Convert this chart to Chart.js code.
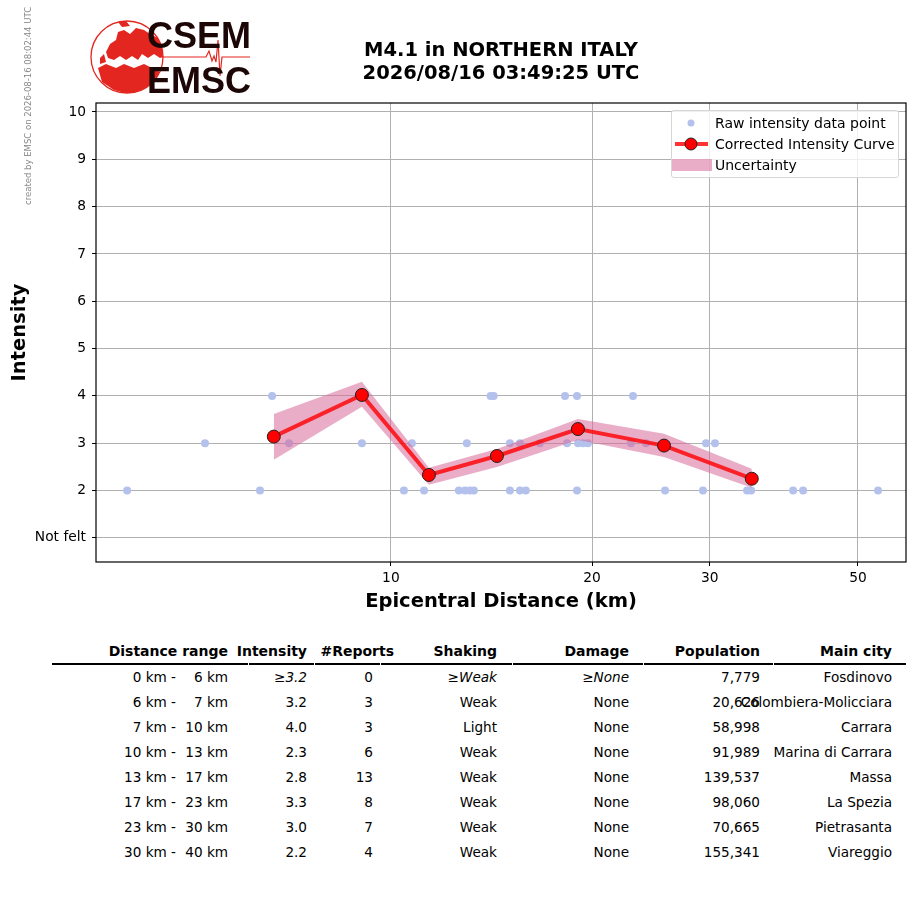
<!DOCTYPE html>
<html lang="en">
<head>
<meta charset="UTF-8">
<title>M4.1 in NORTHERN ITALY - intensity</title>
<script src="https://cdn.jsdelivr.net/npm/chart.js"></script>
<style>
    body {
        margin: 0;
        width: 915px;
        height: 905px;
        position: relative;
        background: #fff;
        font-family: "DejaVu Sans", sans-serif;
        color: #000;
        overflow: hidden;
    }
    #chart {
        position: absolute;
        left: 0;
        top: 0;
    }
    .abs {
        position: absolute;
        white-space: nowrap;
    }
    #title {
        left: 251px;
        top: 38px;
        width: 500px;
        text-align: center;
        font-weight: bold;
        font-size: 19.5px;
        line-height: 23px;
    }
    #stamp {
        left: 23px;
        top: 10px;
        font-size: 8.5px;
        color: #888;
        transform-origin: left top;
        transform: translate(0, 195px) rotate(-90deg);
    }
    .logo-txt {
        font-family: "Liberation Sans", Arial, sans-serif;
        font-weight: bold;
        font-size: 36px;
        color: #1c0606;
        line-height: 36px;
    }
    #legend {
        left: 671px;
        top: 110px;
        width: 226px;
        height: 66px;
        border: 1px solid #d6d6d6;
        border-radius: 3px;
        background: rgba(255, 255, 255, 0.8);
        font-size: 14px;
    }
    .leg-row {
        position: absolute;
        left: 43px;
        line-height: 16px;
    }
    .cell {
        position: absolute;
        white-space: nowrap;
        font-size: 13.6px;
        line-height: 16px;
    }
    .hdr {
        font-weight: bold;
        font-size: 14px;
    }
    .rule {
        position: absolute;
        top: 663px;
        height: 1.5px;
        background: #000;
    }
</style>
</head>
<body>
<canvas id="chart" width="915" height="620"></canvas>

<div id="stamp" class="abs">created by EMSC on 2026-08-16 08:02:44 UTC</div>

<svg class="abs" style="left:88px;top:18px" width="170" height="82" viewBox="0 0 170 82">
    <defs>
        <clipPath id="globe"><circle cx="39" cy="39" r="36"/></clipPath>
    </defs>
    <circle cx="39" cy="39" r="36" fill="none" stroke="#e3261f" stroke-width="1.3"/>
    <g clip-path="url(#globe)" fill="#e3261f">
        <path d="M18 34 L22 26 L28 22 L30 14 L36 12 L42 16 L48 10 L56 12 L62 16 L70 20 L76 28 L78 38 L72 40 L66 36 L60 40 L54 36 L50 42 L44 38 L38 42 L32 38 L26 42 L20 40 Z"/>
        <path d="M10 50 L18 46 L28 50 L36 46 L46 50 L56 46 L64 50 L72 54 L74 62 L66 70 L54 74 L40 76 L26 72 L14 64 Z"/>
        <path d="M12 40 L16 36 L18 44 L12 46 Z"/>
        <path d="M30 4 L38 3 L42 8 L34 9 Z"/>
    </g>
    <polyline points="74,39 118,39 121,33 124,43 126,38 128,44 130,22 132,58 134,39 162,39"
              fill="none" stroke="#e3261f" stroke-width="1.2"/>
</svg>
<div class="abs logo-txt" style="left:147px;top:18px">CSEM</div>
<div class="abs logo-txt" style="left:147px;top:63px">EMSC</div>

<div id="title" class="abs">M4.1 in NORTHERN ITALY<br>2026/08/16 03:49:25 UTC</div>

<div id="legend" class="abs">
    <svg style="position:absolute;left:0;top:0" width="44" height="66">
        <circle cx="19" cy="12" r="3.5" fill="#b3c1ec"/>
        <line x1="3" y1="33" x2="36" y2="33" stroke="rgba(255,0,0,0.8)" stroke-width="4"/>
        <circle cx="19" cy="33" r="6" fill="#ff0000" stroke="#222" stroke-width="1"/>
        <rect x="0" y="48" width="40" height="12" fill="rgba(215,105,155,0.55)"/>
    </svg>
    <div class="leg-row" style="top:4px">Raw intensity data point</div>
    <div class="leg-row" style="top:25px">Corrected Intensity Curve</div>
    <div class="leg-row" style="top:46px">Uncertainty</div>
</div>

<div id="table"></div>

<script>
    // ---- data ----
    const rawDist = [6.64, 14.1, 14.25, 18.22, 18.99, 23.03,
        5.27, 7.04, 9.05, 10.75, 12.99, 15.07, 15.60, 16.71, 18.35, 19.06, 19.39, 19.72, 22.87, 24.08, 29.62, 30.55,
        4.03, 6.37, 10.46, 11.21, 12.64, 12.91, 13.13, 13.31, 15.07, 15.60, 15.92, 18.99, 25.72, 29.31, 34.12, 34.60, 39.99, 41.39, 53.58];
    const rawInt = [4, 4, 4, 4, 4, 4,
        3, 3, 3, 3, 3, 3, 3, 3, 3, 3, 3, 3, 3, 3, 3, 3,
        2, 2, 2, 2, 2, 2, 2, 2, 2, 2, 2, 2, 2, 2, 2, 2, 2, 2, 2];

    const curveDist = [6.68, 9.05, 11.40, 14.41, 19.05, 25.63, 34.68];
    const curveInt = [3.14, 4.02, 2.33, 2.73, 3.30, 2.95, 2.25];
    const upperInt = [3.62, 4.30, 2.48, 2.88, 3.51, 3.20, 2.46];
    const lowerInt = [2.65, 3.77, 2.12, 2.50, 3.07, 2.71, 2.06];

    const xTicks = [10, 20, 30, 50];
    const yTicks = [1, 2, 3, 4, 5, 6, 7, 8, 9, 10];
    const yTickLabels = ['Not felt', '2', '3', '4', '5', '6', '7', '8', '9', '10'];

    const tableHeader = ['Distance range', 'Intensity', '#Reports', 'Shaking', 'Damage', 'Population', 'Main city'];
    const rangeFrom = ['0 km -', '6 km -', '7 km -', '10 km -', '13 km -', '17 km -', '23 km -', '30 km -'];
    const rangeTo = ['6 km', '7 km', '10 km', '13 km', '17 km', '23 km', '30 km', '40 km'];
    const intensities = ['≥3.2', '3.2', '4.0', '2.3', '2.8', '3.3', '3.0', '2.2'];
    const reports = ['0', '3', '3', '6', '13', '8', '7', '4'];
    const shaking = ['≥Weak', 'Weak', 'Light', 'Weak', 'Weak', 'Weak', 'Weak', 'Weak'];
    const damage = ['≥None', 'None', 'None', 'None', 'None', 'None', 'None', 'None'];
    const population = ['7,779', '20,626', '58,998', '91,989', '139,537', '98,060', '70,665', '155,341'];
    const mainCity = ['Fosdinovo', 'Colombiera-Molicciara', 'Carrara', 'Marina di Carrara', 'Massa', 'La Spezia', 'Pietrasanta', 'Viareggio'];

    const toXY = (xs, ys) => xs.map((x, i) => ({ x: x, y: ys[i] }));

    // black frame around the plot area, like matplotlib axes
    const framePlugin = {
        id: 'frame',
        afterDraw(chart) {
            const a = chart.chartArea;
            const ctx = chart.ctx;
            ctx.save();
            ctx.strokeStyle = '#000';
            ctx.lineWidth = 1.2;
            ctx.strokeRect(a.left, a.top, a.right - a.left, a.bottom - a.top);
            ctx.restore();
        }
    };

    const font = { family: 'DejaVu Sans', size: 13.8 };
    const titleFont = { family: 'DejaVu Sans', size: 19.5, weight: 'bold' };

    new Chart(document.getElementById('chart'), {
        type: 'scatter',
        data: {
            datasets: [{
                    label: 'Raw intensity data point',
                    data: toXY(rawDist, rawInt),
                    backgroundColor: '#b3c1ec',
                    borderWidth: 0,
                    pointRadius: 4,
                    order: 4
                },
                {
                    label: 'Uncertainty',
                    data: toXY(curveDist, upperInt),
                    showLine: true,
                    borderWidth: 0,
                    pointRadius: 0,
                    fill: '+1',
                    backgroundColor: 'rgba(215,105,155,0.55)',
                    order: 3
                },
                {
                    label: 'lower',
                    data: toXY(curveDist, lowerInt),
                    showLine: true,
                    borderWidth: 0,
                    pointRadius: 0,
                    fill: false,
                    order: 3
                },
                {
                    label: 'Corrected Intensity Curve',
                    data: toXY(curveDist, curveInt),
                    showLine: true,
                    borderColor: 'rgba(255,0,0,0.8)',
                    borderWidth: 4,
                    pointRadius: 6.5,
                    pointBackgroundColor: '#ff0000',
                    pointBorderColor: '#222',
                    pointBorderWidth: 1,
                    order: 1
                }
            ]
        },
        options: {
            responsive: false,
            animation: false,
            devicePixelRatio: 1,
            layout: {
                padding: { left: 0, right: 9, top: 103, bottom: 0 }
            },
            plugins: {
                legend: { display: false },
                tooltip: { enabled: false }
            },
            scales: {
                x: {
                    type: 'logarithmic',
                    min: 3.62,
                    max: 59,
                    afterBuildTicks(scale) {
                        scale.ticks = xTicks.map(v => ({ value: v }));
                    },
                    afterFit(scale) {
                        scale.height = 58;
                    },
                    ticks: {
                        autoSkip: false,
                        maxRotation: 0,
                        padding: 4,
                        color: '#000',
                        font: font,
                        callback: v => String(v)
                    },
                    grid: {
                        color: '#b0b0b0',
                        tickColor: '#000',
                        tickLength: 4
                    },
                    border: { display: false },
                    title: {
                        display: true,
                        text: 'Epicentral Distance (km)',
                        color: '#000',
                        font: titleFont,
                        padding: { top: 0, bottom: 6 }
                    }
                },
                y: {
                    type: 'linear',
                    min: 0.49,
                    max: 10.19,
                    afterBuildTicks(scale) {
                        scale.ticks = yTicks.map(v => ({ value: v }));
                    },
                    afterFit(scale) {
                        scale.width = 96;
                    },
                    ticks: {
                        autoSkip: false,
                        padding: 6,
                        color: '#000',
                        font: font,
                        callback: v => yTickLabels[yTicks.indexOf(v)]
                    },
                    grid: {
                        color: '#b0b0b0',
                        tickColor: '#000',
                        tickLength: 4
                    },
                    border: { display: false },
                    title: {
                        display: true,
                        text: 'Intensity',
                        color: '#000',
                        font: titleFont,
                        padding: { top: 8, bottom: 0 }
                    }
                }
            }
        },
        plugins: [framePlugin]
    });

    // ---- summary table below the chart ----
    const table = document.getElementById('table');
    const rowTop = y => y - 8;

    function addCell(text, right, y, cls, italic) {
        const el = document.createElement('div');
        el.className = 'cell' + (cls ? ' ' + cls : '');
        el.style.right = (915 - right) + 'px';
        el.style.top = rowTop(y) + 'px';
        if (italic && text.startsWith('≥')) {
            el.innerHTML = '≥<i>' + text.slice(1) + '</i>';
        } else if (italic) {
            el.innerHTML = '<i>' + text + '</i>';
        } else {
            el.textContent = text;
        }
        table.appendChild(el);
    }

    const headRight = [228, 307, 394, 497, 629, 760, 892];
    const valRight = [228, 307, 373, 497, 629, 760, 892];
    tableHeader.forEach((h, i) => addCell(h, headRight[i], 651, 'hdr'));

    [[52, 248], [249, 314], [315, 380], [381, 512], [513, 643], [644, 773], [774, 906]].forEach(seg => {
        const r = document.createElement('div');
        r.className = 'rule';
        r.style.left = seg[0] + 'px';
        r.style.width = (seg[1] - seg[0]) + 'px';
        table.appendChild(r);
    });

    rangeFrom.forEach((_, i) => {
        const y = 677 + i * 25;
        const it = i === 0;
        addCell(rangeFrom[i], 176, y);
        addCell(rangeTo[i], valRight[0], y);
        addCell(intensities[i], valRight[1], y, '', it);
        addCell(reports[i], valRight[2], y);
        addCell(shaking[i], valRight[3], y, '', it);
        addCell(damage[i], valRight[4], y, '', it);
        addCell(population[i], valRight[5], y);
        addCell(mainCity[i], valRight[6], y);
    });
</script>
</body>
</html>
